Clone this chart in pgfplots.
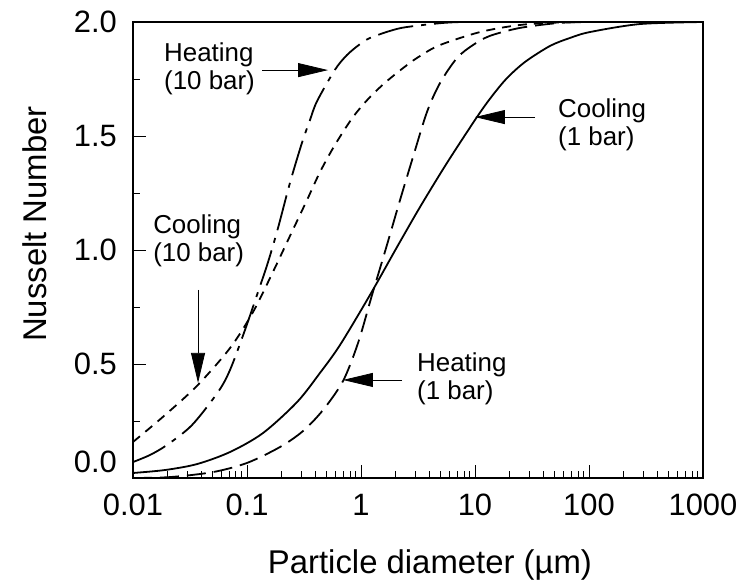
\documentclass[border=0pt]{standalone}
\usepackage{fontspec}
\setmainfont{Liberation Sans}
\usepackage{pgfplots}
\pgfplotsset{compat=1.18}
\usetikzlibrary{arrows.meta}

\tikzset{
    anno/.style={font=\fontsize{26}{28}\selectfont, align=left, anchor=west, inner sep=0pt},
    arr/.style={line width=0.8bp, -{Triangle[length=30bp,width=14bp]}},
}

\begin{document}
\begin{tikzpicture}
\useasboundingbox (-133bp,-105bp) rectangle (609bp,478bp);
\begin{axis}[
    scale only axis, width=570bp, height=456bp,
    xmode=log, xmin=0.01, xmax=1000, ymin=0, ymax=2,
    clip=false,
    axis line style={line width=1.1bp},
    xtick={0.01,0.1,1,10,100,1000},
    xticklabels={0.01,0.1,1,10,100,1000},
    ytick={0.5,1,1.5,2},
    yticklabels={0.5,1.0,1.5,2.0},
    minor ytick={0.25,0.75,1.25,1.75},
    extra y ticks={0},
    extra y tick labels={0.0},
    extra y tick style={yticklabel style={yshift=16bp}},
    tick align=inside, xtick pos=bottom, ytick pos=left,
    major tick length=13bp, minor tick length=7bp,
    tick style={black, line width=0.9bp},
    /pgf/number format/assume math mode=true,
    every tick label/.append style={font=\fontsize{31}{36}\selectfont},
    xticklabel style={anchor=base, inner sep=0pt, yshift=-37bp},
    yticklabel style={anchor=east, inner sep=0pt, xshift=-16bp},
    xlabel={Particle diameter (µm)},
    ylabel={Nusselt Number},
    every axis x label/.style={at={(axis description cs:0.521,-0.2105)}, anchor=base, font=\fontsize{33}{38}\selectfont},
    every axis y label/.style={at={(axis description cs:-0.1526,0.557)}, rotate=90, anchor=base, font=\fontsize{33}{38}\selectfont},
    every axis plot/.append style={black, line width=1.8bp, smooth},
]
% Cooling (1 bar)
\addplot[solid] coordinates {
    (0.01,0.022) (0.0191,0.035) (0.0364,0.061) (0.071,0.114) (0.138,0.197)
    (0.275,0.333) (0.437,0.461) (0.654,0.583) (1.20,0.803) (2.07,1.013)
    (3.30,1.189) (5.68,1.382) (10.4,1.583) (14.1,1.675) (19.1,1.754)
    (27.5,1.825) (45.5,1.895) (68.1,1.930) (102,1.956) (280,1.991) (1000,2.0)
};
% Heating (1 bar)
\addplot[dash pattern=on 19bp off 8bp] coordinates {
    (0.01,0.0) (0.0211,0.004) (0.0503,0.026) (0.100,0.066) (0.195,0.136)
    (0.310,0.206) (0.464,0.298) (0.695,0.425) (0.942,0.592) (1.25,0.803)
    (1.66,1.009) (2.20,1.219) (2.86,1.408) (3.79,1.605) (4.93,1.732)
    (6.95,1.842) (9.60,1.899) (13.5,1.939) (24.8,1.974) (55.7,1.996)
    (125,2.0) (1000,2.0)
};
% Cooling (10 bar)
\addplot[dash pattern=on 9bp off 7bp] coordinates {
    (0.01,0.158) (0.0183,0.268) (0.0364,0.404) (0.071,0.570) (0.113,0.728)
    (0.169,0.904) (0.238,1.061) (0.336,1.219) (0.437,1.342) (0.591,1.461)
    (0.851,1.583) (1.20,1.671) (1.69,1.741) (2.53,1.811) (3.30,1.851)
    (4.93,1.899) (11.1,1.956) (24.8,1.987) (55.7,1.998) (125,2.0) (1000,2.0)
};
% Heating (10 bar)
\addplot[dash pattern=on 36bp off 8bp on 5bp off 8bp] coordinates {
    (0.01,0.070) (0.0141,0.101) (0.0199,0.145) (0.0329,0.232) (0.0557,0.377)
    (0.071,0.474) (0.096,0.649) (0.125,0.816) (0.153,0.947) (0.187,1.096)
    (0.238,1.294) (0.303,1.469) (0.357,1.570) (0.411,1.652) (0.590,1.790)
    (0.753,1.855) (0.980,1.903) (1.20,1.930) (1.80,1.961) (2.53,1.978)
    (6.04,1.998) (16.6,2.0) (1000,2.0)
};

\node[anno] at (axis cs:0.0187,1.794) {Heating\\(10 bar)};
\draw[arr] (axis cs:0.1355,1.789) -- (axis cs:0.514,1.789);
\node[anno] at (axis cs:0.015,1.039) {Cooling\\(10 bar)};
\draw[arr] (axis cs:0.0372,0.825) -- (axis cs:0.0372,0.417);
\node[anno] at (axis cs:53.5,1.548) {Cooling\\(1 bar)};
\draw[arr] (axis cs:33.6,1.583) -- (axis cs:10,1.583);
\node[anno] at (axis cs:3.1,0.434) {Heating\\(1 bar)};
\draw[arr] (axis cs:2.29,0.43) -- (axis cs:0.695,0.43);
\end{axis}
\end{tikzpicture}
\end{document}
